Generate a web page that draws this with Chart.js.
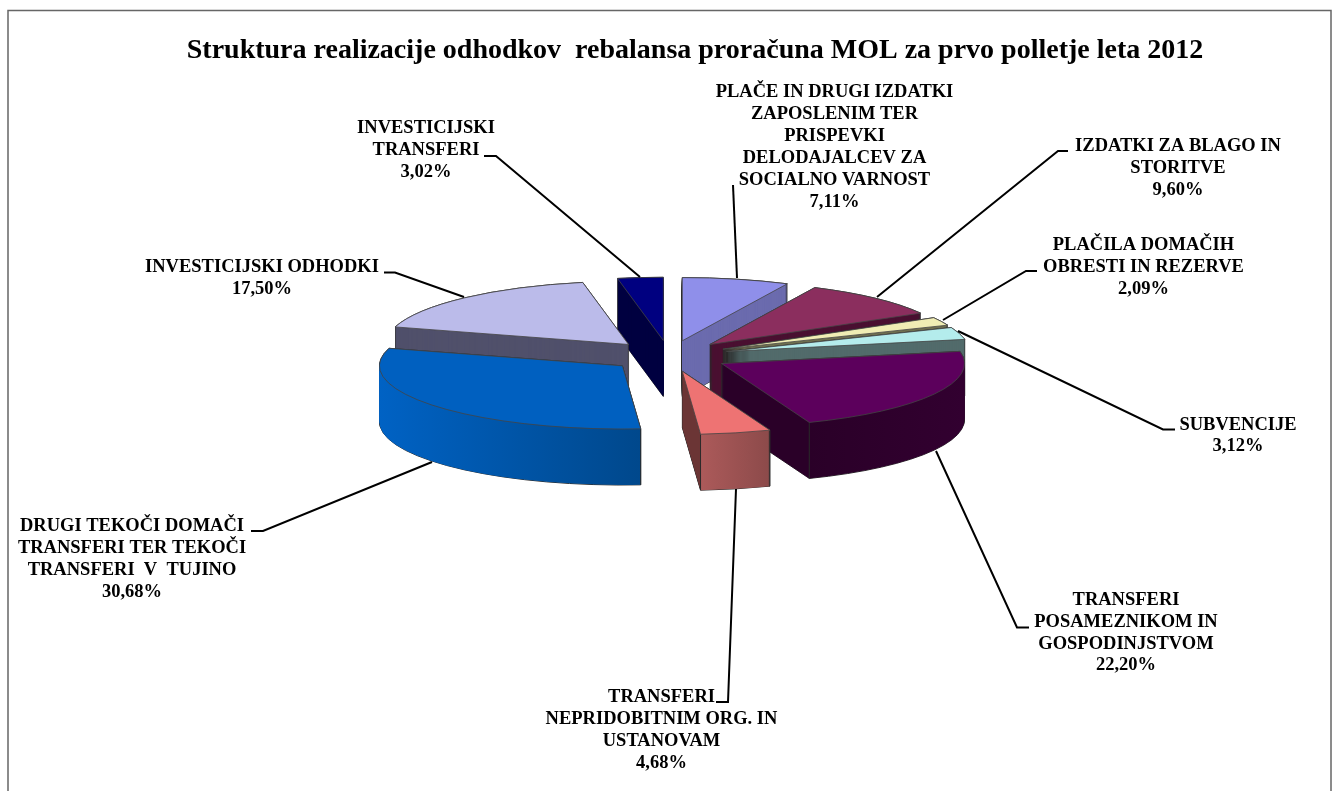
<!DOCTYPE html>
<html>
<head>
<meta charset="utf-8">
<title>Struktura realizacije odhodkov</title>
<script src="https://cdn.jsdelivr.net/npm/chart.js@4"></script>
<style>
  html, body { margin: 0; padding: 0; background: #fff; overflow: hidden; }
  canvas { display: block; }
</style>
</head>
<body>
<canvas id="chart" width="1336" height="791"></canvas>
<script>
const titleText = 'Struktura realizacije odhodkov  rebalansa proračuna MOL za prvo polletje leta 2012';

const categories = [
  ['PLAČE IN DRUGI IZDATKI', 'ZAPOSLENIM TER', 'PRISPEVKI', 'DELODAJALCEV ZA', 'SOCIALNO VARNOST'],
  ['IZDATKI ZA BLAGO IN', 'STORITVE'],
  ['PLAČILA DOMAČIH', 'OBRESTI IN REZERVE'],
  ['SUBVENCIJE'],
  ['TRANSFERI', 'POSAMEZNIKOM IN', 'GOSPODINJSTVOM'],
  ['TRANSFERI', 'NEPRIDOBITNIM ORG. IN', 'USTANOVAM'],
  ['DRUGI TEKOČI DOMAČI', 'TRANSFERI TER TEKOČI', 'TRANSFERI  V  TUJINO'],
  ['INVESTICIJSKI ODHODKI'],
  ['INVESTICIJSKI', 'TRANSFERI']
];
const values = [7.11, 9.60, 2.09, 3.12, 22.20, 4.68, 30.68, 17.50, 3.02];

// colours
const topColors = ['#8F8FEA', '#8B2E5E', '#F0EDB4', '#B4ECEC', '#5C005C', '#EE7373', '#0060C0', '#BBBBEA', '#000080'];
const cutColors = ['#6B6BAE', '#4A1031', '#6F6F50', '#526B6B', '#2A0028', '#6B3535', '#0060C0', '#50506B', '#000040'];
const rimColors = [null, null, null, null, ['#2A0028', '#320030'], ['#AC5A5A', '#8C4A4A'], ['#0062C4', '#00488C'], null, null];

// label placement: centre x, first line y
const labelPos = [[834.5, 92.6], [1178, 146], [1143.5, 245], [1238, 424.8], [1126, 600], [661.5, 697.2], [132, 526.6], [262, 267.6], [426, 128.3]];
const leaderLines = [
  [[733, 185], [737, 278]],
  [[1068, 151], [1058, 151], [877, 297]],
  [[1037, 271], [1026, 271], [943, 320]],
  [[1175, 429.5], [1163, 429.5], [958, 331]],
  [[1029, 627.5], [1017, 627.5], [936, 451]],
  [[716, 702], [728, 702], [736, 489]],
  [[251, 531], [263, 531], [432, 462]],
  [[384, 272.5], [395, 272.5], [464, 297]],
  [[484, 156], [496, 156], [640, 277]]
];

// projection of the flat pie
const pieX = 669, pieY = 356, pieRadius = 243;
const squash = 0.26, explode = 60, depth = 56;
const serif = '"Liberation Serif", "Times New Roman", serif';

function sliceShift(arc) {
  const mid = (arc.startAngle + arc.endAngle) / 2;
  return { x: pieX + Math.cos(mid) * explode, y: pieY + Math.sin(mid) * explode * squash };
}

function wallFill(ctx, arc, i) {
  const rim = rimColors[i];
  if (!rim) return cutColors[i];
  const a0 = arc.startAngle, a1 = arc.endAngle;
  let xs = [];
  if (Math.sin(a0) >= 0) xs.push(Math.cos(a0));
  if (Math.sin(a1) >= 0) xs.push(Math.cos(a1));
  if (a0 < 0 && a1 > 0) xs.push(1);
  if (a0 < Math.PI && a1 > Math.PI) xs.push(-1);
  const left = Math.min(...xs), right = Math.max(...xs);
  const w = arc.outerRadius * 2 + 4;
  const x0 = arc.x - arc.outerRadius - 2;
  const g = ctx.createLinearGradient(x0, 0, x0 + w, 0);
  const p0 = (arc.x + arc.outerRadius * left - x0) / w;
  const p1 = (arc.x + arc.outerRadius * right - x0) / w;
  g.addColorStop(0, cutColors[i]);
  g.addColorStop(Math.max(0, p0 - 0.0005), cutColors[i]);
  g.addColorStop(p0, rim[0]);
  g.addColorStop(p1, rim[1]);
  g.addColorStop(Math.min(1, p1 + 0.0005), rim[1]);
  g.addColorStop(1, rim[1]);
  return g;
}

function drawArcAt(ctx, arc, shift, dy, fill) {
  const saved = arc.options;
  arc.options = Object.assign({}, saved, { backgroundColor: fill, borderWidth: 0, offset: 0 });
  ctx.save();
  ctx.translate(shift.x, shift.y + dy);
  ctx.scale(1, squash);
  ctx.translate(-arc.x, -arc.y);
  arc.draw(ctx);
  ctx.restore();
  arc.options = saved;
}

function outlineAt(ctx, arc, shift, dy) {
  const r = arc.outerRadius;
  ctx.beginPath();
  ctx.moveTo(shift.x, shift.y + dy);
  ctx.ellipse(shift.x, shift.y + dy, r, r * squash, 0, arc.startAngle, arc.endAngle);
  ctx.closePath();
  ctx.stroke();
}

const pie3d = {
  id: 'pie3d',
  beforeDraw(chart) {
    const ctx = chart.ctx;
    ctx.save();
    ctx.fillStyle = '#fff';
    ctx.fillRect(0, 0, chart.width, chart.height);
    ctx.strokeStyle = '#666';
    ctx.lineWidth = 1.5;
    ctx.strokeRect(8, 10.5, 1323, 900);
    ctx.restore();
  },
  beforeDatasetsDraw(chart) {
    const ctx = chart.ctx;
    const arcs = chart.getDatasetMeta(0).data.map((arc, i) => ({ arc, i }));
    // back to front
    arcs.sort((a, b) => {
      const m = s => Math.sin((s.arc.startAngle + s.arc.endAngle) / 2);
      return m(a) - m(b);
    });
    arcs.forEach(({ arc, i }) => {
      const shift = sliceShift(arc);
      ctx.save();
      ctx.strokeStyle = '#2a2a2a';
      ctx.lineWidth = 1;
      ctx.lineJoin = 'round';
      for (let k = depth; k >= 0; k--) outlineAt(ctx, arc, shift, k);
      const wall = wallFill(ctx, arc, i);
      for (let k = depth; k >= 1; k--) drawArcAt(ctx, arc, shift, k, wall);
      // edges of the wall that face the viewer
      [arc.startAngle, arc.endAngle].forEach(a => {
        if (Math.sin(a) > 0.02) {
          const x = shift.x + Math.cos(a) * arc.outerRadius;
          const y = shift.y + Math.sin(a) * arc.outerRadius * squash;
          ctx.beginPath();
          ctx.moveTo(x, y);
          ctx.lineTo(x, y + depth);
          ctx.stroke();
        }
      });
      drawArcAt(ctx, arc, shift, 0, topColors[i]);
      ctx.strokeStyle = '#444';
      ctx.lineWidth = 0.8;
      outlineAt(ctx, arc, shift, 0);
      ctx.restore();
    });
    return false;
  },
  afterDraw(chart) {
    const ctx = chart.ctx;
    ctx.save();
    ctx.strokeStyle = '#000';
    ctx.lineWidth = 2;
    leaderLines.forEach(pts => {
      ctx.beginPath();
      pts.forEach((p, n) => (n ? ctx.lineTo(p[0], p[1]) : ctx.moveTo(p[0], p[1])));
      ctx.stroke();
    });
    ctx.fillStyle = '#000';
    ctx.font = 'bold 18.5px ' + serif;
    ctx.textAlign = 'center';
    ctx.textBaseline = 'middle';
    categories.forEach((lines, i) => {
      const pct = values[i].toFixed(2).replace('.', ',') + '%';
      lines.concat(pct).forEach((line, n) => {
        ctx.fillText(line, labelPos[i][0], labelPos[i][1] + n * 21.9);
      });
    });
    ctx.restore();
  }
};

new Chart(document.getElementById('chart'), {
  type: 'pie',
  data: {
    labels: categories.map(c => c.join(' ')),
    datasets: [{
      data: values,
      backgroundColor: topColors,
      borderWidth: 0,
      radius: pieRadius
    }]
  },
  options: {
    responsive: false,
    animation: false,
    layout: { padding: { left: 54 } },
    plugins: {
      legend: { display: false },
      tooltip: { enabled: false },
      title: {
        display: true,
        text: titleText,
        color: '#000',
        font: { family: serif, size: 28, weight: 'bold' },
        padding: { top: 33.5, bottom: 0 }
      }
    }
  },
  plugins: [pie3d]
});
</script>
</body>
</html>
